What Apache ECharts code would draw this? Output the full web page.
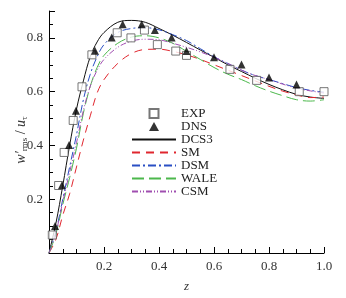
<!DOCTYPE html>
<html>
<head>
<meta charset="utf-8">
<script src="https://cdn.jsdelivr.net/npm/echarts@6/dist/echarts.min.js"></script>
<style>
  html, body { margin: 0; padding: 0; background: #fff; }
  #chart { width: 346px; height: 298px; }
</style>
</head>
<body>
<div id="chart"></div>
<script>
// measured points
var expX = [0.012, 0.035, 0.055, 0.088, 0.12, 0.156, 0.248, 0.298, 0.347, 0.394, 0.461, 0.5, 0.658, 0.755, 0.91, 1.0];
var expY = [0.067, 0.251, 0.374, 0.493, 0.618, 0.737, 0.819, 0.8, 0.829, 0.775, 0.751, 0.735, 0.683, 0.642, 0.6, 0.6];
var dnsX = [0.022, 0.047, 0.073, 0.098, 0.167, 0.228, 0.268, 0.337, 0.385, 0.446, 0.5, 0.6, 0.7, 0.8, 0.9];
var dnsY = [0.1, 0.252, 0.402, 0.529, 0.752, 0.801, 0.851, 0.851, 0.829, 0.801, 0.751, 0.728, 0.701, 0.653, 0.627];

// model curves, sampled on zGrid
var zGrid = [0, 0.025, 0.05, 0.075, 0.1, 0.125, 0.15, 0.175, 0.2, 0.25, 0.3, 0.35, 0.4, 0.45, 0.5, 0.55, 0.6, 0.65, 0.7, 0.75, 0.8, 0.85, 0.9, 0.95, 1.0];
var dcs3 = [0, 0.11, 0.25, 0.4, 0.535, 0.64, 0.73, 0.785, 0.82, 0.858, 0.865, 0.858, 0.835, 0.81, 0.783, 0.755, 0.728, 0.7, 0.675, 0.65, 0.627, 0.607, 0.59, 0.58, 0.575];
var sm   = [0, 0.05, 0.14, 0.22, 0.32, 0.42, 0.51, 0.595, 0.645, 0.705, 0.742, 0.757, 0.758, 0.75, 0.737, 0.72, 0.7, 0.68, 0.66, 0.64, 0.62, 0.602, 0.588, 0.578, 0.58];
var dsm  = [0, 0.08, 0.2, 0.32, 0.44, 0.57, 0.665, 0.73, 0.775, 0.82, 0.835, 0.838, 0.83, 0.812, 0.79, 0.76, 0.73, 0.705, 0.68, 0.66, 0.645, 0.63, 0.615, 0.605, 0.598];
var wale = [0, 0.07, 0.18, 0.28, 0.39, 0.52, 0.62, 0.69, 0.735, 0.78, 0.803, 0.808, 0.8, 0.78, 0.75, 0.72, 0.69, 0.665, 0.645, 0.622, 0.602, 0.585, 0.57, 0.565, 0.57];
var csm  = [0, 0.075, 0.19, 0.3, 0.41, 0.53, 0.62, 0.68, 0.72, 0.765, 0.788, 0.795, 0.793, 0.78, 0.765, 0.748, 0.728, 0.705, 0.68, 0.66, 0.645, 0.628, 0.613, 0.603, 0.595];

function pairs(xs, ys) { return xs.map(function (x, i) { return [x, ys[i]]; }); }

var font = 'Liberation Serif';
var chart = echarts.init(document.getElementById('chart'));

function curve(name, ys, color, dash) {
  return {
    name: name, type: 'line', data: pairs(zGrid, ys), smooth: 0.35,
    showSymbol: false, symbol: 'none',
    lineStyle: { color: color, width: 1, type: dash },
    itemStyle: { color: color },
    z: 2
  };
}

// line entries in the legend: hide the symbol, keep the dashed line
function lineItem(name) { return { name: name, itemStyle: { opacity: 0 } }; }

var option = {
  animation: false,
  grid: { left: 49, right: 22, top: 11, bottom: 35 },
  legend: {
    orient: 'vertical', left: 131, top: 107,
    itemWidth: 44, itemHeight: 9, itemGap: 0, itemTextGap: 8,
    padding: 0,
    textStyle: { fontFamily: font, fontSize: 13, color: '#222', lineHeight: 12 },
    data: [
      { name: 'EXP', icon: 'path://M0,0H10V10H0Z' },
      { name: 'DNS', icon: 'path://M5,0L10,9L0,9Z' },
      lineItem('DCS3'), lineItem('SM'), lineItem('DSM'), lineItem('WALE'), lineItem('CSM')
    ]
  },
  graphic: [{
    type: 'text', x: 21, y: 140, rotation: Math.PI / 2,
    style: {
      text: '{i|w′}{s|rms}{n| / }{i|u}{s|τ}',
      align: 'center', verticalAlign: 'middle',
      rich: {
        i: { fontFamily: font, fontSize: 14, fontStyle: 'italic', fill: '#333', lineHeight: 16 },
        n: { fontFamily: font, fontSize: 14, fill: '#333', lineHeight: 16 },
        s: { fontFamily: font, fontSize: 9, fill: '#333', lineHeight: 16, padding: [7, 0, 0, 0] }
      }
    }
  }],
  xAxis: {
    type: 'value', min: 0, max: 1, interval: 0.2,
    name: 'z', nameLocation: 'middle', nameGap: 27,
    nameTextStyle: { fontFamily: font, fontSize: 13, fontStyle: 'italic', color: '#333' },
    axisLine: { lineStyle: { color: '#000', width: 1 } },
    axisTick: { inside: true, length: 6, lineStyle: { color: '#000' } },
    minorTick: { show: true, splitNumber: 4, length: 4, lineStyle: { color: '#000' } },
    splitLine: { show: false },
    axisLabel: {
      fontFamily: font, fontSize: 13, color: '#333', margin: 7,
      formatter: function (v) { return v === 0 ? '' : v.toFixed(1); }
    }
  },
  yAxis: {
    type: 'value', min: 0, max: 0.9, interval: 0.2,
    axisLine: { lineStyle: { color: '#000', width: 1 } },
    axisTick: { inside: true, length: 6, lineStyle: { color: '#000' } },
    minorTick: { show: true, splitNumber: 4, length: 4, lineStyle: { color: '#000' } },
    splitLine: { show: false },
    axisLabel: {
      fontFamily: font, fontSize: 13, color: '#333', margin: 6,
      formatter: function (v) { return (v === 0 || v > 0.85) ? '' : v.toFixed(1); }
    }
  },
  series: [
    {
      name: 'EXP', type: 'scatter', data: pairs(expX, expY),
      symbol: 'rect', symbolSize: 8,
      itemStyle: { color: '#fff', borderColor: '#555', borderWidth: 1 },
      z: 4
    },
    {
      name: 'DNS', type: 'scatter', data: pairs(dnsX, dnsY),
      symbol: 'triangle', symbolSize: 8,
      itemStyle: { color: '#000' },
      z: 5
    },
    curve('DCS3', dcs3, '#111', 'solid'),
    curve('SM', sm, '#e0262e', [8, 6]),
    curve('DSM', dsm, '#2a4fc4', [8, 3, 2, 3]),
    curve('WALE', wale, '#4cb84c', [12, 5]),
    curve('CSM', csm, '#a04eb0', [6, 2, 1, 2, 1, 2])
  ]
};
chart.setOption(option);
</script>
</body>
</html>
